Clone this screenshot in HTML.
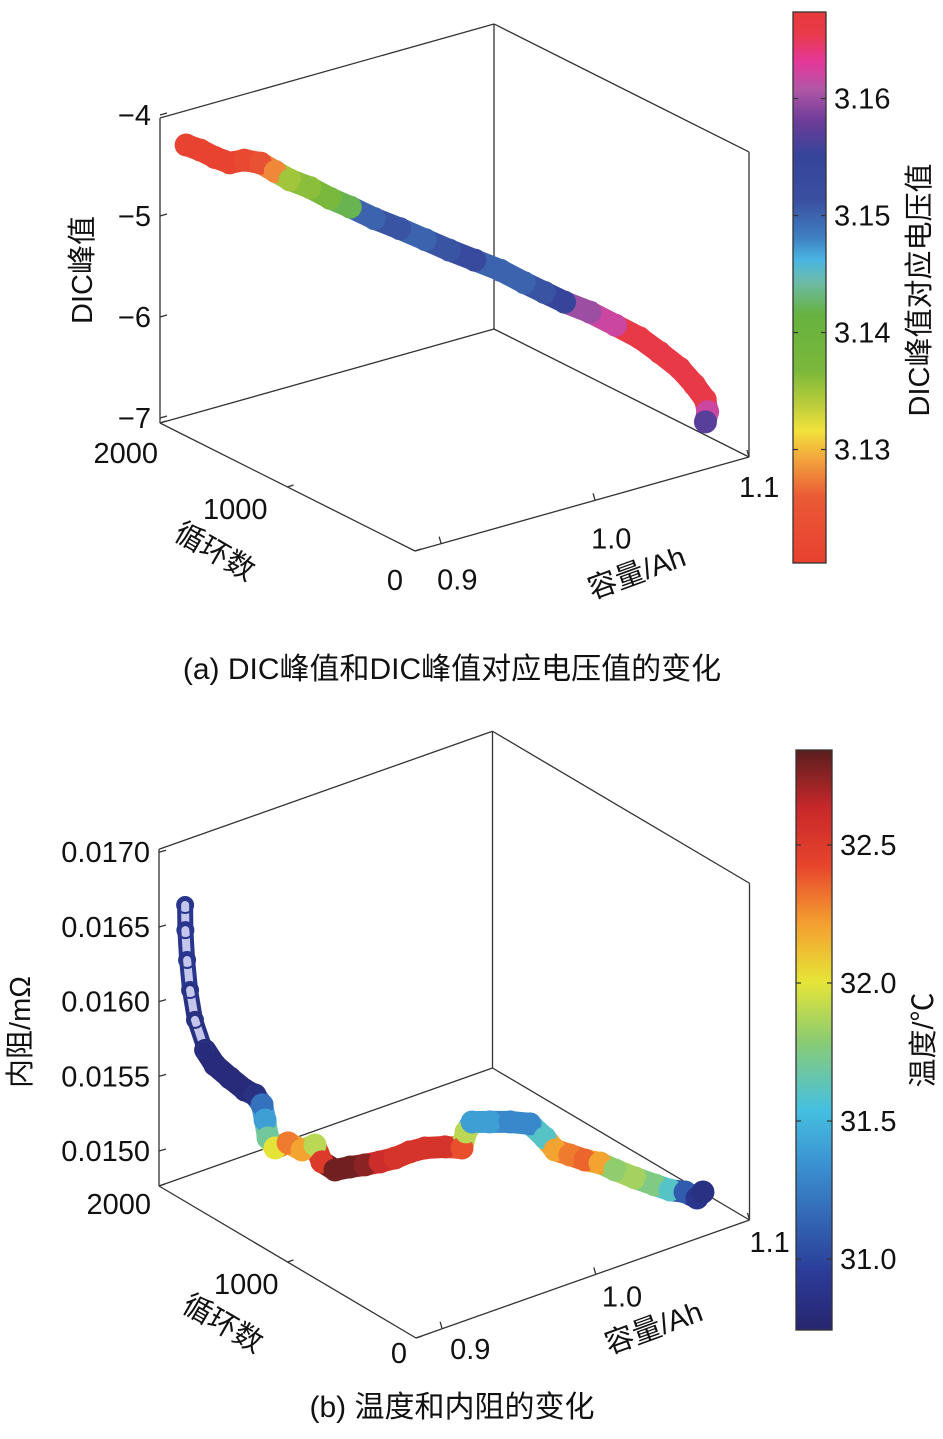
<!DOCTYPE html>
<html><head><meta charset="utf-8">
<style>
html,body{margin:0;padding:0;background:#fff;}
svg{display:block;font-family:"Liberation Sans","Noto Sans CJK SC",sans-serif;}
text{fill:#111;}
</style></head>
<body>
<svg id="fig" width="943" height="1439" viewBox="0 0 943 1439" xmlns="http://www.w3.org/2000/svg">
<defs>
<linearGradient id="gradA" x1="0" y1="1" x2="0" y2="0">
<stop offset="0" stop-color="#e8402f"/><stop offset="0.12" stop-color="#ea5a35"/><stop offset="0.18" stop-color="#f29a3c"/>
<stop offset="0.24" stop-color="#f2e23c"/><stop offset="0.29" stop-color="#b8cc3a"/><stop offset="0.35" stop-color="#7ab83c"/>
<stop offset="0.45" stop-color="#66b23e"/><stop offset="0.51" stop-color="#6cbba8"/><stop offset="0.55" stop-color="#4ab6e2"/>
<stop offset="0.59" stop-color="#3e80c2"/><stop offset="0.66" stop-color="#3a4ea0"/><stop offset="0.74" stop-color="#36449a"/>
<stop offset="0.8" stop-color="#6a3c98"/><stop offset="0.86" stop-color="#b056a6"/><stop offset="0.91" stop-color="#e6379a"/>
<stop offset="0.96" stop-color="#e83a4a"/><stop offset="1" stop-color="#e8393a"/>
</linearGradient>
<linearGradient id="gradB" x1="0" y1="1" x2="0" y2="0">
<stop offset="0" stop-color="#27256e"/><stop offset="0.1" stop-color="#2b3c98"/><stop offset="0.28" stop-color="#3a8fd0"/>
<stop offset="0.38" stop-color="#45c0e0"/><stop offset="0.5" stop-color="#8ccc70"/><stop offset="0.6" stop-color="#e6e437"/>
<stop offset="0.7" stop-color="#f4a030"/><stop offset="0.8" stop-color="#e8452c"/><stop offset="0.9" stop-color="#c8282a"/>
<stop offset="1" stop-color="#5a1e1e"/>
</linearGradient>
</defs>
<g id="chartA"></g>
<g id="chartB"></g>

<text x="452" y="679" font-size="30" text-anchor="middle">(a) DIC峰值和DIC峰值对应电压值的变化</text>
<text x="452" y="1417" font-size="30" text-anchor="middle">(b) 温度和内阻的变化</text>
</svg>
<script>
// ---------- Chart A data ----------
const cyclesA = [2000,1949,1895,1840,1785,1730,1675,1620,1547,1474,1401,1309,1218,1126,1035,943,852,760,687,614,523,431,340,266,193,138,102,95,100];
const capacityA = [0.900,0.905,0.910,0.915,0.920,0.926,0.931,0.936,0.943,0.950,0.957,0.965,0.974,0.983,0.991,1.000,1.009,1.017,1.024,1.031,1.040,1.049,1.057,1.064,1.071,1.076,1.080,1.081,1.080];
const dicPeakA = [-4.37,-4.41,-4.47,-4.51,-4.47,-4.49,-4.56,-4.63,-4.69,-4.78,-4.85,-4.94,-5.02,-5.11,-5.19,-5.27,-5.35,-5.45,-5.53,-5.61,-5.69,-5.80,-5.90,-6.03,-6.17,-6.32,-6.46,-6.58,-6.68];
const voltageA = [3.121,3.121,3.121,3.121,3.122,3.124,3.128,3.135,3.136,3.137,3.142,3.150,3.151,3.150,3.151,3.153,3.150,3.150,3.151,3.155,3.160,3.162,3.166,3.166,3.166,3.166,3.166,3.162,3.157];
const zTicksA = [-4,-5,-6,-7];
const cycleTicks = [0,1000,2000];
const capTicks = [0.9,1.0,1.1];
const cbTicksA = [3.13,3.14,3.15,3.16];

// ---------- Chart B data ----------
const cyclesB = [2000,1998,1993,1982,1964,1927,1891,1836,1781,1745,1719,1708,1698,1672,1625,1573,1526,1501,1453,1398,1344,1289,1234,1180,1125,1052,990,975,953,888,815,742,687,650,596,541,486,432,359,286,231,176,132,111];
const capacityB = [0.900,0.900,0.9007,0.9017,0.9034,0.9069,0.9103,0.9155,0.9207,0.9242,0.9266,0.9276,0.9287,0.9311,0.9356,0.9404,0.9449,0.9473,0.9518,0.957,0.9622,0.9674,0.9725,0.9777,0.9829,0.9898,0.9957,0.9971,0.9992,1.0054,1.0123,1.0192,1.0244,1.0279,1.033,1.0382,1.0434,1.0486,1.0555,1.0624,1.0676,1.0728,1.0769,1.079];
const resistB = [0.016585,0.016418,0.016218,0.016019,0.015822,0.015627,0.015532,0.015454,0.015382,0.015355,0.015293,0.015194,0.015075,0.015012,0.015054,0.015015,0.015056,0.014947,0.014901,0.01493,0.014953,0.014982,0.015017,0.015067,0.015102,0.015121,0.015124,0.015234,0.015304,0.015315,0.015327,0.015326,0.015241,0.015166,0.015142,0.015117,0.015106,0.015069,0.015027,0.014992,0.014967,0.014963,0.01493,0.014973];
const tempB = [30.9,30.9,30.9,30.9,30.85,30.85,30.8,30.8,30.8,30.85,31.2,31.4,31.7,32.0,32.3,32.2,31.9,32.5,32.8,32.8,32.75,32.6,32.55,32.55,32.55,32.55,32.4,31.9,31.4,31.4,31.3,31.3,31.6,32.2,32.3,32.35,32.2,31.8,31.85,31.75,31.6,31.1,30.9,30.85];
const zTicksB = [0.0150,0.0155,0.0160,0.0165,0.0170];
const cbTicksB = [31.0,31.5,32.0,32.5];

const NS = 'http://www.w3.org/2000/svg';
function mk(tag, attrs, parent){
  const e = document.createElementNS(NS, tag);
  for (const k in attrs) e.setAttribute(k, attrs[k]);
  parent.appendChild(e);
  return e;
}
function hex2rgb(h){return [parseInt(h.substr(1,2),16),parseInt(h.substr(3,2),16),parseInt(h.substr(5,2),16)];}
function cmap(stops, f){
  f = Math.max(0, Math.min(1, f));
  for (let i=1;i<stops.length;i++){
    if (f <= stops[i][0]){
      const a=stops[i-1], b=stops[i], u=(f-a[0])/(b[0]-a[0]||1);
      const ca=hex2rgb(a[1]), cb=hex2rgb(b[1]);
      return 'rgb('+ca.map((v,j)=>Math.round(v+(cb[j]-v)*u)).join(',')+')';
    }
  }
  return stops[stops.length-1][1];
}
const stopsA = [[0,'#e8402f'],[0.12,'#ea5a35'],[0.18,'#f29a3c'],[0.24,'#f2e23c'],[0.29,'#b8cc3a'],[0.35,'#7ab83c'],[0.45,'#66b23e'],[0.51,'#6cbba8'],[0.55,'#4ab6e2'],[0.59,'#3e80c2'],[0.66,'#3a4ea0'],[0.74,'#36449a'],[0.8,'#6a3c98'],[0.86,'#b056a6'],[0.91,'#e6379a'],[0.96,'#e83a4a'],[1,'#e8393a']];
const stopsB = [[0,'#27256e'],[0.1,'#2b3c98'],[0.28,'#3a8fd0'],[0.38,'#45c0e0'],[0.5,'#8ccc70'],[0.6,'#e6e437'],[0.7,'#f4a030'],[0.8,'#e8452c'],[0.9,'#c8282a'],[1,'#5a1e1e']];

function drawChart(g, cfg){
  const F = cfg.F, vc = cfg.vc, vn = cfg.vn;
  function proj(c, n, z){
    const u = (c - cfg.cMin)/(cfg.cMax - cfg.cMin), w = n/2000;
    return [F[0] + vc[0]*u + vn[0]*w, F[1] + vc[1]*u + vn[1]*w - (z - cfg.zMin)*cfg.zScale];
  }
  const H = (cfg.zMax - cfg.zMin)*cfg.zScale;
  const L = [F[0]+vn[0], F[1]+vn[1]], B = [F[0]+vc[0]+vn[0], F[1]+vc[1]+vn[1]], R = [F[0]+vc[0], F[1]+vc[1]];
  const box = mk('g', {stroke:'#333', 'stroke-width':1.3, fill:'none'}, g);
  
  
  const segs = [[L,B,0,0],[B,R,0,0],[L,F,0,0],[F,R,0,0],[L,L,0,H],[B,B,0,H],[R,R,0,H],[L,B,H,H],[B,R,H,H]];
  segs.forEach(s=>{
    if (s[0]===s[1]) mk('line',{x1:s[0][0],y1:s[0][1],x2:s[0][0],y2:s[0][1]-H},box);
    else mk('line',{x1:s[0][0],y1:s[0][1]-s[2],x2:s[1][0],y2:s[1][1]-s[3]},box);
  });
  cfg.zTicks.forEach(t=>{
    const p = proj(cfg.cMin, 2000, t);
    mk('line',{x1:p[0],y1:p[1],x2:p[0]+7,y2:p[1]-2,stroke:'#333','stroke-width':1.3},g);
    const tx = mk('text',{x:p[0]-9,y:p[1]+10,'font-size':cfg.fs,'text-anchor':'end'},g);
    tx.textContent = cfg.zFmt(t);
    
    
  });
  cycleTicks.forEach((t,i)=>{
    const p = proj(cfg.cMin, t, cfg.zMin);
    mk('line',{x1:p[0],y1:p[1],x2:p[0]+6,y2:p[1]-2,stroke:'#333','stroke-width':1.3},g);
    const off = cfg.cycOff[i];
    const tx = mk('text',{x:p[0]+off[0],y:p[1]+off[1],'font-size':cfg.fs,'text-anchor':'end'},g);
    tx.textContent = String(t);
    
    
  });
  capTicks.forEach((t,i)=>{
    const p = proj(t, 0, cfg.zMin);
    mk('line',{x1:p[0],y1:p[1],x2:p[0]-2,y2:p[1]-7,stroke:'#333','stroke-width':1.3},g);
    const off = cfg.capOff[i];
    const tx = mk('text',{x:p[0]+off[0],y:p[1]+off[1],'font-size':cfg.fs,'text-anchor':'start'},g);
    tx.textContent = t.toFixed(1);
    
    
  });
  const pts = cfg.cyc.map((n,i)=>proj(cfg.cap[i], n, cfg.z[i]));
  const ser = mk('g', {}, g);
  
  
  const col = cfg.col.map(v=>cmap(cfg.stops, (v - cfg.cbMin)/(cfg.cbMax - cfg.cbMin)));
  for (let i=1;i<pts.length;i++){
    const hollow = cfg.hollow && i < cfg.hollow;
    const ln = mk('line',{x1:pts[i-1][0],y1:pts[i-1][1],x2:pts[i][0],y2:pts[i][1],stroke:col[i],'stroke-width':hollow?16:cfg.r*2,'stroke-linecap':'round'},ser);
    
    
    if (hollow){
      const ln2 = mk('line',{x1:pts[i-1][0],y1:pts[i-1][1],x2:pts[i][0],y2:pts[i][1],stroke:'#c4c6ec','stroke-width':8,'stroke-linecap':'round'},ser);
      
      
    }
  }
  pts.forEach((p,i)=>{
    const hollow = cfg.hollow && i < cfg.hollow;
    const c = mk('circle',{cx:p[0],cy:p[1],r:hollow?8:cfg.r,fill:hollow?'none':col[i],stroke:col[i],'stroke-width':hollow?2:1},ser);
    
    
  });
  const cb = cfg.cb;
  const rect = mk('rect',{x:cb.x,y:cb.y,width:cb.w,height:cb.h,fill:'url(#'+cfg.grad+')',stroke:'#333','stroke-width':1.3},g);
  
  
  cfg.cbTicks.forEach(t=>{
    const y = cb.y + cb.h - (t - cfg.cbMin)/(cfg.cbMax - cfg.cbMin)*cb.h;
    mk('line',{x1:cb.x+cb.w-5,y1:y,x2:cb.x+cb.w,y2:y,stroke:'#333','stroke-width':1.2},g);
    mk('line',{x1:cb.x,y1:y,x2:cb.x+5,y2:y,stroke:'#333','stroke-width':1.2},g);
    const tx = mk('text',{x:cb.x+cb.w+8,y:y+10,'font-size':cfg.fs},g);
    tx.textContent = t.toFixed(cfg.cbDec);
    
    
  });
  cfg.titles.forEach(tt=>{
    const tx = mk('text',{x:tt.x,y:tt.y,'font-size':tt.fs,'text-anchor':'middle',transform:'rotate('+tt.rot+' '+tt.x+' '+tt.y+')'},g);
    tx.textContent = tt.t;
    
    
  });
}

drawChart(document.getElementById('chartA'), {
  F:[415,551], vc:[334,-94], vn:[-255,-128], cMin:0.883, cMax:1.1, zMin:-7.05, zMax:-4.03, zScale:101,
  zTicks:zTicksA, zFmt:t=>'\u2212'+Math.abs(t), fs:29,
  cycOff:[[-12,39],[-20,32],[-2,40]], capOff:[[-4,46],[-4,48],[-10,40]],
  cyc:cyclesA, cap:capacityA, z:dicPeakA, col:voltageA, r:11, stops:stopsA, cbMin:3.1203, cbMax:3.1674,
  cb:{x:793,y:12,w:33,h:551}, grad:'gradA', cbTicks:cbTicksA, cbDec:2,
  titles:[{t:'DIC峰值',x:92,y:270,rot:-90,fs:29,name:'z-axis-title'},
          {t:'DIC峰值对应电压值',x:929,y:290,rot:-90,fs:29,name:'colorbar-title'},
          {t:'循环数',x:210,y:560,rot:30,fs:29,name:'cycle-axis-title'},
          {t:'容量/Ah',x:640,y:582,rot:-20,fs:29,name:'capacity-axis-title'}]
});

drawChart(document.getElementById('chartB'), {
  F:[416,1338], vc:[333.5,-118], vn:[-257,-152], cMin:0.883, cMax:1.1, zMin:0.014766, zMax:0.01702, zScale:149400,
  zTicks:zTicksB, zFmt:t=>t.toFixed(4), fs:29,
  cycOff:[[-9,25],[-9,32],[-8,28]], capOff:[[8,30],[6,32],[0,32]],
  cyc:cyclesB, cap:capacityB, z:resistB, col:tempB, r:11, stops:stopsB, cbMin:30.743, cbMax:32.844, hollow:6,
  cb:{x:796,y:750,w:36,h:580}, grad:'gradB', cbTicks:cbTicksB, cbDec:1,
  titles:[{t:'内阻/mΩ',x:30,y:1032,rot:-90,fs:29,name:'z-axis-title'},
          {t:'温度/℃',x:933,y:1040,rot:-90,fs:29,name:'colorbar-title'},
          {t:'循环数',x:218,y:1332,rot:30,fs:29,name:'cycle-axis-title'},
          {t:'容量/Ah',x:657,y:1337,rot:-20,fs:29,name:'capacity-axis-title'}]
});
</script>
</body></html>
